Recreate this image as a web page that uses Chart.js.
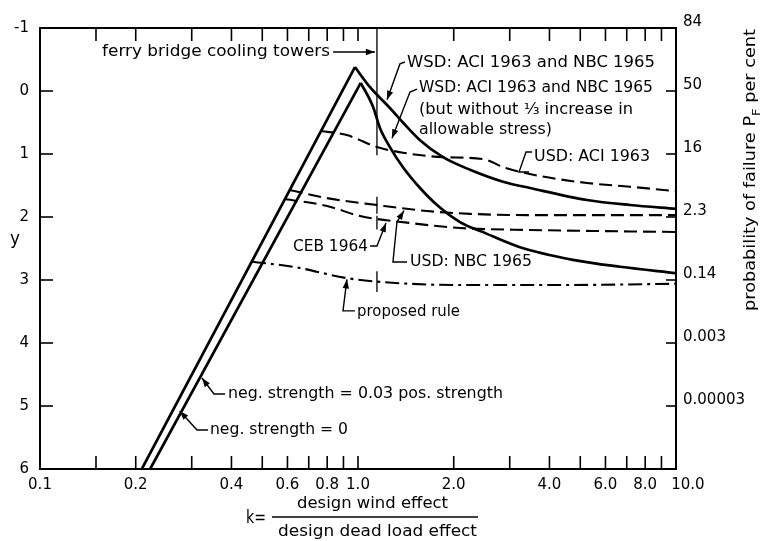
<!DOCTYPE html>
<html><head><meta charset="utf-8">
<script src="https://cdn.jsdelivr.net/npm/chart.js@4/dist/chart.umd.min.js"></script>
<style>html,body{margin:0;padding:0;background:#fff;}canvas{display:block;}</style>
</head><body>
<canvas id="c" width="763" height="541"></canvas>
<script>
// ---- axis ticks / labels ----
const xLabelValues = [0.1, 0.2, 0.4, 0.6, 0.8, 1, 2, 4, 6, 8, 10];
const xLabelText = ["0.1", "0.2", "0.4", "0.6", "0.8", "1.0", "2.0", "4.0", "6.0", "8.0", "     10.0"];
const xMinorTicks = [0.15, 0.2, 0.3, 0.4, 0.5, 0.6, 0.7, 0.8, 0.9, 1, 2, 3, 4, 5, 6, 7, 8, 9];
const yLabelValues = [-1, 0, 1, 2, 3, 4, 5, 6];
const yLabelText = ["-1", "0", "1", "2", "3", "4", "5", "6"];
const probValues = [-1, 0, 1, 2, 3, 4, 5];
const probText = ["84", "50", "16", "2.3", "0.14", "0.003", "0.00003"];

// ---- curves (k, y) ----
const riseOuter_k = [0.209, 0.978];
const riseOuter_y = [6, -0.38];
const riseInner_k = [0.222, 1.02];
const riseInner_y = [6, -0.13];
const wsd_k = [0.978, 1.091, 1.26, 1.385, 1.567, 1.851, 2.25, 2.858, 3.475, 5.25, 7.17, 10];
const wsd_y = [-0.38, -0.06, 0.27, 0.50, 0.78, 1.05, 1.25, 1.44, 1.54, 1.73, 1.81, 1.87];
const wsdNo_k = [1.02, 1.115, 1.173, 1.26, 1.385, 1.567, 1.772, 2.093, 2.472, 3.232, 4.74, 6.67, 10];
const wsdNo_y = [-0.13, 0.25, 0.59, 0.89, 1.21, 1.54, 1.81, 2.08, 2.24, 2.48, 2.68, 2.79, 2.89];
const usdAci_k = [0.765, 0.923, 1.147, 1.385, 1.851, 2.472, 2.90, 3.735, 5.25, 7.17, 10];
const usdAci_y = [0.635, 0.70, 0.89, 0.98, 1.05, 1.08, 1.22, 1.35, 1.46, 1.52, 1.59];
const usdNbc_k = [0.610, 0.799, 1.147, 1.648, 2.25, 3.475, 10];
const usdNbc_y = [1.571, 1.70, 1.81, 1.905, 1.95, 1.97, 1.97];
const ceb_k = [0.589, 0.799, 1.015, 1.457, 2.093, 3.475, 10];
const ceb_y = [1.714, 1.825, 1.984, 2.095, 2.175, 2.206, 2.238];
const proposed_k = [0.464, 0.625, 0.923, 1.173, 2.093, 4.32, 10];
const proposed_y = [2.71, 2.79, 2.97, 3.03, 3.08, 3.08, 3.06];
const ferry_k = [1.147, 1.147];
const ferryMain_y = [-1, 1.02];
const ferryMark1_y = [1.68, 1.95];
const ferryMark2_y = [1.98, 2.20];
const ferryMark3_y = [2.86, 3.19];

const pts = (ks, ys) => ks.map((k, i) => ({x: k, y: ys[i]}));

// ---- annotations (positions in data units) ----
const notes = [
  {t: "ferry bridge cooling towers", k: 0.1567, y: -0.62, w: 228, lead: [[0.835, -0.62], [1.13, -0.62]], arrow: true},
  {t: "WSD: ACI 1963 and NBC 1965", k: 1.426, y: -0.444, w: 248, lead: [[1.405, -0.46], [1.355, -0.43], [1.234, 0.14]], arrow: true},
  {t: "WSD: ACI 1963 and NBC 1965", k: 1.555, y: -0.048, w: 234, lead: [[1.533, -0.03], [1.457, 0.016], [1.279, 0.75]], arrow: true},
  {t: "(but without \u00B9\u2044\u2083 increase in", k: 1.555, y: 0.30, w: 214},
  {t: "allowable stress)", k: 1.555, y: 0.619, w: 133},
  {t: "USD: ACI 1963", k: 3.577, y: 1.048, w: 116, lead: [[3.526, 0.968], [3.376, 0.968], [3.209, 1.286], [3.45, 1.286]]},
  {t: "CEB 1964", k: 0.6245, y: 2.476, w: 75, lead: [[1.091, 2.46], [1.147, 2.46], [1.225, 2.095]], arrow: true},
  {t: "USD: NBC 1965", k: 1.457, y: 2.714, w: 122, lead: [[1.426, 2.714], [1.288, 2.714], [1.326, 2.08], [1.395, 1.90]], arrow: true},
  {t: "proposed rule", k: 0.993, y: 3.508, w: 103, lead: [[0.978, 3.49], [0.897, 3.49], [0.923, 2.99]], arrow: true},
  {t: "neg. strength = 0.03 pos. strength", k: 0.390, y: 4.81, w: 275, lead: [[0.382, 4.81], [0.3525, 4.81], [0.323, 4.556]], arrow: true},
  {t: "neg. strength = 0", k: 0.3424, y: 5.381, w: 138, lead: [[0.3375, 5.381], [0.3117, 5.381], [0.275, 5.079]], arrow: true}
];

const FONT = '"DejaVu Sans", sans-serif';
Chart.defaults.font.family = FONT;
Chart.defaults.font.size = 15;
Chart.defaults.color = '#000';

function fitText(ctx, text, x, y, w, size) {
  ctx.font = size + 'px ' + FONT;
  const m = ctx.measureText(text).width;
  ctx.save();
  ctx.translate(x, y);
  ctx.scale(w / m, 1);
  ctx.textAlign = 'left';
  ctx.textBaseline = 'middle';
  ctx.fillText(text, 0, 0);
  ctx.restore();
}

const overlay = {
  id: 'overlay',
  afterDraw(chart) {
    const {ctx, chartArea: a, scales} = chart;
    const xs = scales.x, ys = scales.y;
    const P = (k, v) => [xs.getPixelForValue(k), ys.getPixelForValue(v)];
    ctx.save();
    ctx.strokeStyle = '#000';
    ctx.fillStyle = '#000';
    ctx.lineWidth = 1.6;
    const seg = (x1, y1, x2, y2) => { ctx.beginPath(); ctx.moveTo(x1, y1); ctx.lineTo(x2, y2); ctx.stroke(); };
    // inner ticks
    xMinorTicks.forEach(v => {
      const px = xs.getPixelForValue(v);
      seg(px, a.bottom, px, a.bottom - 13);
      seg(px, a.top, px, a.top + 13);
    });
    yLabelValues.filter(v => v > -1 && v < 6).forEach(v => {
      const py = ys.getPixelForValue(v);
      seg(a.left, py, a.left + 13, py);
    });
    probValues.filter(v => v > -1).forEach(v => {
      const py = ys.getPixelForValue(v);
      seg(a.right, py, a.right - 10, py);
    });
    // annotations
    ctx.lineWidth = 1.4;
    notes.forEach(n => {
      const [tx, ty] = P(n.k, n.y);
      fitText(ctx, n.t, tx, ty, n.w, 15);
      if (n.lead) {
        const p = n.lead.map(q => P(q[0], q[1]));
        ctx.beginPath();
        ctx.moveTo(p[0][0], p[0][1]);
        for (let i = 1; i < p.length; i++) ctx.lineTo(p[i][0], p[i][1]);
        ctx.stroke();
        if (n.arrow) {
          const e = p[p.length - 1], s = p[p.length - 2];
          const ang = Math.atan2(e[1] - s[1], e[0] - s[0]);
          const L = 9, W = 3.2;
          ctx.beginPath();
          ctx.moveTo(e[0], e[1]);
          ctx.lineTo(e[0] - L * Math.cos(ang) + W * Math.sin(ang), e[1] - L * Math.sin(ang) - W * Math.cos(ang));
          ctx.lineTo(e[0] - L * Math.cos(ang) - W * Math.sin(ang), e[1] - L * Math.sin(ang) + W * Math.cos(ang));
          ctx.closePath();
          ctx.fill();
        }
      }
    });
    // left axis title
    fitText(ctx, 'y', a.left - 30, 240, 10, 17);
    // bottom title
    fitText(ctx, 'k=', 246, 519, 20, 17);
    fitText(ctx, 'design wind effect', 297, 504, 151, 15);
    fitText(ctx, 'design dead load effect', 278, 532, 199, 15);
    ctx.lineWidth = 1.6;
    seg(272, 517, 478, 517);
    // right axis title (rotated)
    ctx.save();
    ctx.translate(751, 311);
    ctx.rotate(-Math.PI / 2);
    ctx.font = '15px ' + FONT;
    ctx.textBaseline = 'middle';
    const p1 = 'probability of failure P', p2 = 'F', p3 = ' per cent';
    const w1 = ctx.measureText(p1).width;
    ctx.font = '11px ' + FONT;
    const w2 = ctx.measureText(p2).width;
    ctx.font = '15px ' + FONT;
    const w3 = ctx.measureText(p3).width;
    const sc = 282 / (w1 + w2 + w3);
    ctx.scale(sc, 1);
    ctx.fillText(p1, 0, 0);
    ctx.font = '11px ' + FONT;
    ctx.fillText(p2, w1, 6);
    ctx.font = '15px ' + FONT;
    ctx.fillText(p3, w1 + w2, 0);
    ctx.restore();
    ctx.restore();
  }
};

const solid = {borderColor: '#000', borderWidth: 2.7, pointRadius: 0, fill: false};
const dashed = {borderColor: '#000', borderWidth: 2.1, borderDash: [13, 6], pointRadius: 0, fill: false, cubicInterpolationMode: 'monotone'};
const thin = {borderColor: '#000', borderWidth: 1.3, pointRadius: 0, fill: false};

new Chart(document.getElementById('c'), {
  type: 'line',
  data: {
    datasets: [
      {label: 'neg. strength = 0', data: pts(riseOuter_k, riseOuter_y), ...solid},
      {label: 'neg. strength = 0.03 pos. strength', data: pts(riseInner_k, riseInner_y), ...solid},
      {label: 'WSD: ACI 1963 and NBC 1965', data: pts(wsd_k, wsd_y), ...solid, cubicInterpolationMode: 'monotone'},
      {label: 'WSD without 1/3 increase', data: pts(wsdNo_k, wsdNo_y), ...solid, cubicInterpolationMode: 'monotone'},
      {label: 'USD: ACI 1963', data: pts(usdAci_k, usdAci_y), ...dashed},
      {label: 'USD: NBC 1965', data: pts(usdNbc_k, usdNbc_y), ...dashed},
      {label: 'CEB 1964', data: pts(ceb_k, ceb_y), ...dashed},
      {label: 'proposed rule', data: pts(proposed_k, proposed_y), ...dashed, borderDash: [14, 5, 3, 5]},
      {label: 'ferry bridge', data: pts(ferry_k, ferryMain_y), ...thin},
      {label: 'ferry mark 1', data: pts(ferry_k, ferryMark1_y), ...thin},
      {label: 'ferry mark 2', data: pts(ferry_k, ferryMark2_y), ...thin},
      {label: 'ferry mark 3', data: pts(ferry_k, ferryMark3_y), ...thin}
    ]
  },
  options: {
    responsive: false,
    animation: false,
    devicePixelRatio: 1,
    layout: {padding: 0},
    plugins: {legend: {display: false}, tooltip: {enabled: false}},
    elements: {line: {tension: 0}},
    scales: {
      x: {
        type: 'logarithmic', position: 'bottom', min: 0.1, max: 10,
        afterBuildTicks: s => { s.ticks = xLabelValues.map(v => ({value: v})); },
        afterFit: s => { s.height = 72; },
        ticks: {autoSkip: false, maxRotation: 0, minRotation: 0, padding: 7, font: {size: 15},
          callback: (v, i) => xLabelText[i]},
        grid: {display: false, drawTicks: false},
        border: {display: true, color: '#000', width: 2}
      },
      x2: {
        type: 'logarithmic', position: 'top', min: 0.1, max: 10, axis: 'x',
        afterFit: s => { s.height = 28; },
        ticks: {display: false},
        grid: {display: false, drawTicks: false},
        border: {display: true, color: '#000', width: 2}
      },
      y: {
        type: 'linear', position: 'left', reverse: true, min: -1, max: 6,
        afterBuildTicks: s => { s.ticks = yLabelValues.map(v => ({value: v})); },
        afterFit: s => { s.width = 40; },
        ticks: {padding: 11, font: {size: 15}, callback: (v, i) => yLabelText[i]},
        grid: {display: false, drawTicks: false},
        border: {display: true, color: '#000', width: 2}
      },
      y2: {
        type: 'linear', position: 'right', reverse: true, min: -1, max: 6, axis: 'y',
        afterBuildTicks: s => { s.ticks = probValues.map(v => ({value: v})); },
        afterFit: s => { s.width = 87; },
        ticks: {padding: 7, labelOffset: -6, font: {size: 15}, callback: (v, i) => probText[i]},
        grid: {display: false, drawTicks: false},
        border: {display: true, color: '#000', width: 2}
      }
    }
  },
  plugins: [overlay]
});
</script>
</body></html>
